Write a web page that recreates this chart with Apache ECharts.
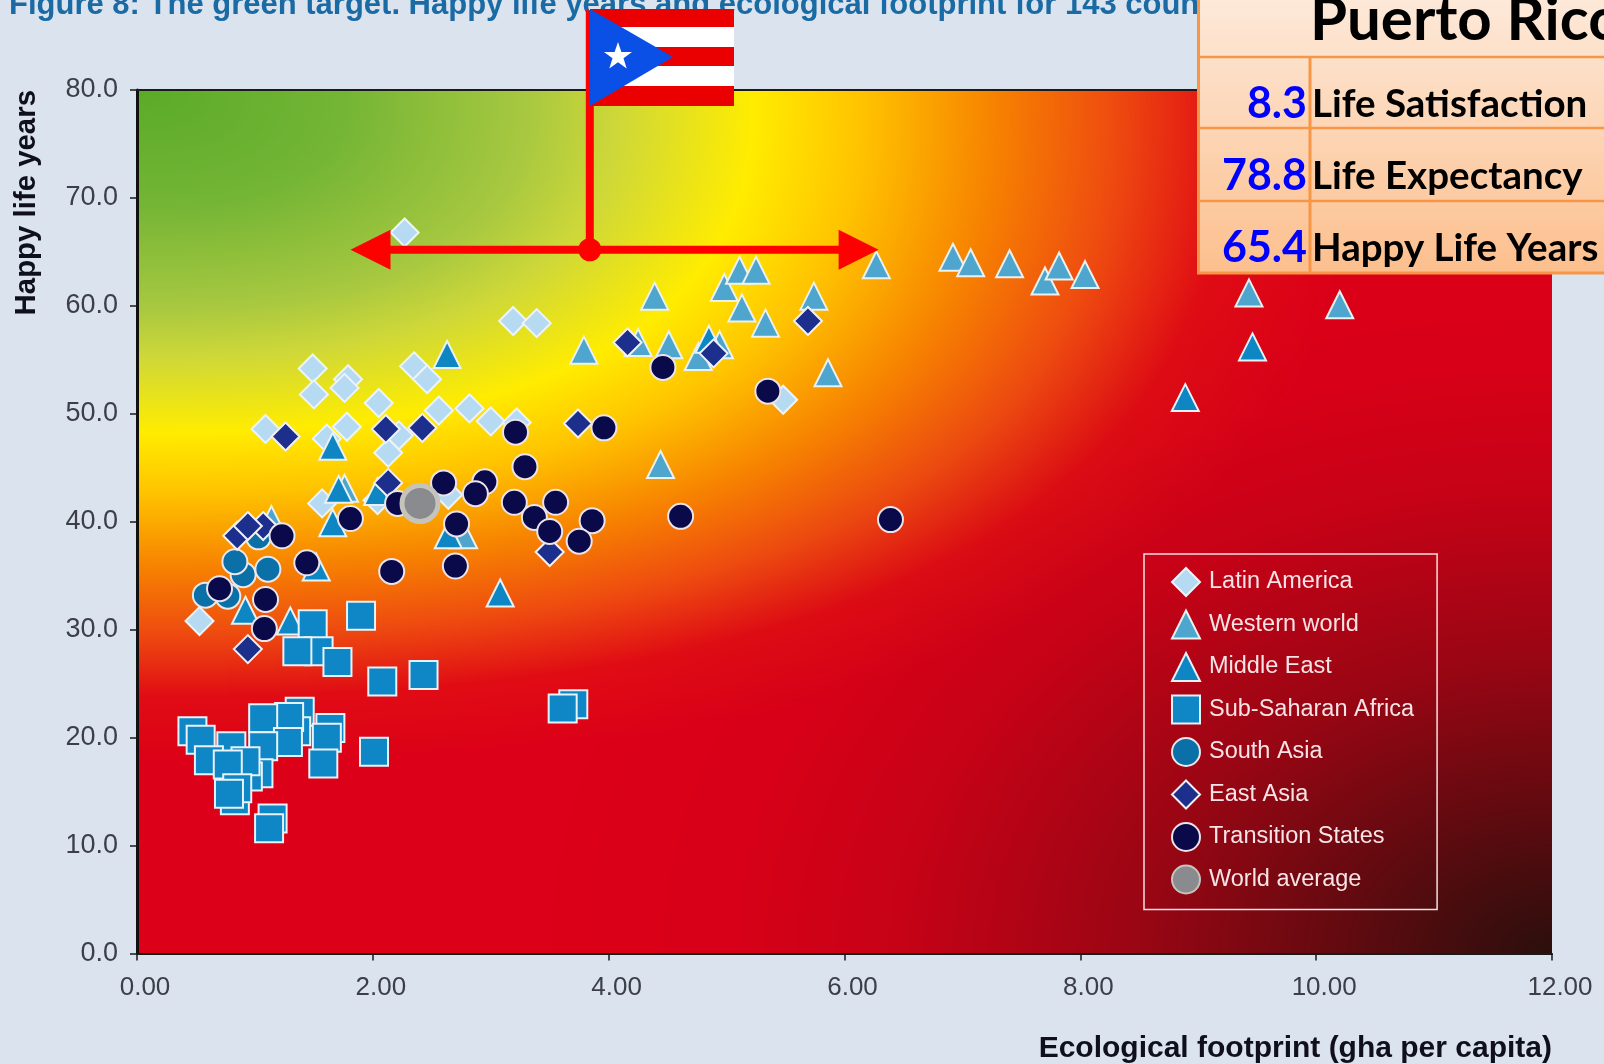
<!DOCTYPE html>
<html>
<head>
<meta charset="utf-8">
<style>html,body{margin:0;padding:0;background:#dbe3ee;overflow:hidden}#chart{width:1604px;height:1064px}</style>
<script src="https://cdn.jsdelivr.net/npm/echarts@6/dist/echarts.min.js"></script>
</head>
<body>
<div id="chart"></div>
<script>
// values: [footprint, happy life years]
var latinAmerica = [[2.27,66.8],[3.19,58.6],[3.39,58.4],[1.49,54.2],[1.50,51.8],[1.79,53.2],[1.76,52.4],[2.35,54.4],[2.46,53.2],[2.05,51.0],[2.56,50.3],[2.82,50.5],[3.00,49.3],[3.22,49.2],[1.09,48.6],[1.78,48.8],[1.61,47.7],[2.22,48.0],[2.13,46.4],[2.64,42.5],[1.57,41.7],[2.04,42.0],[0.53,30.8],[5.48,51.3]];
var westernWorld = [[4.39,60.9],[4.98,61.7],[5.11,63.3],[5.25,63.3],[5.13,59.8],[5.33,58.4],[5.74,60.9],[3.79,55.9],[4.25,56.6],[4.51,56.4],[4.76,55.3],[4.94,56.4],[5.86,53.8],[4.44,45.3],[6.27,63.8],[6.92,64.5],[7.07,64.0],[7.40,63.9],[7.70,62.3],[7.82,63.7],[8.04,62.9],[9.43,61.2],[10.20,60.1],[1.76,43.1],[2.77,38.8],[1.14,40.2]];
var middleEast = [[2.63,55.5],[1.66,47.0],[1.71,43.0],[2.04,42.8],[1.66,39.9],[2.64,38.8],[0.92,31.8],[1.30,30.8],[1.52,35.8],[3.08,33.4],[4.85,56.9],[9.46,56.2],[8.89,51.5]];
var subSaharan = [[1.90,31.3],[1.49,30.5],[1.54,28.0],[1.36,28.0],[1.70,27.0],[2.08,25.2],[2.43,25.8],[1.38,22.4],[1.35,20.6],[1.64,20.9],[1.29,21.9],[1.07,21.8],[1.61,20.0],[1.28,19.6],[1.07,19.2],[0.47,20.6],[0.54,19.8],[0.80,19.2],[1.03,16.7],[0.94,16.4],[0.92,17.8],[0.61,17.9],[0.77,17.5],[1.58,17.6],[2.01,18.7],[0.83,14.2],[0.85,15.3],[0.78,14.8],[1.15,12.5],[1.12,11.6],[3.70,23.1],[3.61,22.7]];
var southAsia = [[1.03,38.6],[0.90,35.1],[0.83,36.3],[1.11,35.6],[0.77,33.1],[0.58,33.2]];
var eastAsia = [[1.26,47.9],[2.11,48.6],[2.42,48.7],[2.13,43.6],[0.85,38.7],[1.07,39.6],[0.94,39.6],[0.94,28.2],[3.74,49.1],[4.16,56.6],[4.89,55.6],[5.69,58.6],[3.50,37.2]];
var transitionStates = [[4.46,54.3],[5.35,52.1],[3.21,48.3],[3.96,48.7],[3.29,45.1],[3.20,41.8],[3.55,41.8],[3.37,40.4],[3.50,39.1],[3.86,40.1],[3.75,38.2],[4.61,40.5],[6.39,40.2],[1.81,40.3],[2.21,41.7],[2.71,39.8],[2.60,43.6],[2.95,43.7],[2.87,42.6],[1.23,38.7],[1.44,36.2],[2.16,35.4],[2.70,35.9],[0.70,33.8],[1.09,32.8],[1.08,30.1]];
var worldAverage = [[2.40,41.7]];

var puertoRico = [3.84, 65.2];
var arrowEnds = [1.98, 6.12];
var poleTop = 87.4;

var tableTitle = 'Puerto Rico';
var tableValues = ['8.3', '78.8', '65.4'];
var tableLabels = ['Life Satisfaction', 'Life Expectancy', 'Happy Life Years'];

var grid = {left: 137, top: 90, right: 1552, bottom: 953.5};
var plotW = grid.right - grid.left;
var plotH = grid.bottom - grid.top;

// colour field behind the plot: distance from the top left corner -> colour
var fieldStops = [
  [0, 0x5a, 0xab, 0x28], [115, 0x74, 0xb5, 0x35], [217, 0xa8, 0xc8, 0x40], [268, 0xcf, 0xd8, 0x38],
  [342, 0xff, 0xec, 0x00], [401, 0xff, 0xc4, 0x00], [473, 0xf7, 0x85, 0x00], [544, 0xee, 0x4a, 0x10],
  [606, 0xe0, 0x0c, 0x14], [677, 0xdc, 0x00, 0x18], [2000, 0xdc, 0x00, 0x18]
];
// darkening toward the bottom right corner: distance -> share of dark colour
var darkStops = [[0, 1], [150, 0.78], [410, 0.38], [655, 0.12], [820, 0.03], [1020, 0], [4000, 0]];
var darkColor = [0x2a, 0x0f, 0x0c];

function lookup(stops, d, k) {
  for (var i = 1; i < stops.length; i++) {
    if (d <= stops[i][0]) {
      var t = (d - stops[i - 1][0]) / (stops[i][0] - stops[i - 1][0]);
      return stops[i - 1][k] + (stops[i][k] - stops[i - 1][k]) * t;
    }
  }
  return stops[stops.length - 1][k];
}

function buildField() {
  var w = Math.round(plotW), h = Math.round(plotH);
  var c = document.createElement('canvas');
  c.width = w; c.height = h;
  var ctx = c.getContext('2d');
  var img = ctx.createImageData(w, h);
  var p = 2.5;
  for (var y = 0; y < h; y++) {
    for (var x = 0; x < w; x++) {
      var d = Math.pow(Math.pow(x / 1.8, p) + Math.pow(y, p), 1 / p);
      var m = Math.sqrt(Math.pow(w - x, 2) + Math.pow((h - y) * 1.4, 2));
      var s = lookup(darkStops, m, 1);
      var o = (y * w + x) * 4;
      img.data[o] = lookup(fieldStops, d, 1) * (1 - s) + darkColor[0] * s;
      img.data[o + 1] = lookup(fieldStops, d, 2) * (1 - s) + darkColor[1] * s;
      img.data[o + 2] = lookup(fieldStops, d, 3) * (1 - s) + darkColor[2] * s;
      img.data[o + 3] = 255;
    }
  }
  ctx.putImageData(img, 0, 0);
  return c;
}

var chart = echarts.init(document.getElementById('chart'), null, {renderer: 'canvas'});

function group(name, data, symbol, size, fill, stroke, z) {
  return {
    name: name, type: 'scatter', data: data, symbol: symbol, symbolSize: size, z: z,
    itemStyle: {color: fill, borderColor: stroke, borderWidth: 2, opacity: 1},
    emphasis: {disabled: true}, animation: false
  };
}

// red crosshair, in chart values
var marker = [
  {type: 'line', data: [[arrowEnds[0], puertoRico[1]], [arrowEnds[1], puertoRico[1]]], symbol: 'none', z: 30, clip: false, silent: true, animation: false,
    lineStyle: {color: '#ff0000', width: 8}},
  {type: 'line', data: [[puertoRico[0], puertoRico[1]], [puertoRico[0], poleTop]], symbol: 'none', z: 30, clip: false, silent: true, animation: false,
    lineStyle: {color: '#ff0000', width: 8}},
  {type: 'scatter', data: [puertoRico], symbol: 'circle', symbolSize: 23, z: 31, clip: false, silent: true, animation: false, itemStyle: {color: '#ff0000', opacity: 1}},
  {type: 'scatter', data: [[arrowEnds[0], puertoRico[1]]], symbol: 'triangle', symbolSize: 40, symbolRotate: 90, z: 31, silent: true, animation: false, itemStyle: {color: '#ff0000', opacity: 1}},
  {type: 'scatter', data: [[arrowEnds[1], puertoRico[1]]], symbol: 'triangle', symbolSize: 40, symbolRotate: -90, z: 31, silent: true, animation: false, itemStyle: {color: '#ff0000', opacity: 1}}
];

// flag
var flag = [
  {type: 'rect', z: 50, shape: {x: 590, y: 9, width: 144, height: 97}, style: {fill: '#ea0000'}},
  {type: 'rect', z: 50, shape: {x: 590, y: 27, width: 144, height: 20}, style: {fill: '#ffffff'}},
  {type: 'rect', z: 50, shape: {x: 590, y: 66, width: 144, height: 20}, style: {fill: '#ffffff'}},
  {type: 'polygon', z: 51, shape: {points: [[590, 9], [673, 57], [590, 106]]}, style: {fill: '#0a50e6'}},
  {type: 'polygon', z: 52, shape: {points: [[618,42],[621.4,52],[632,52],[623.5,58.3],[626.7,68.5],[618,62.3],[609.3,68.5],[612.5,58.3],[604,52],[614.6,52]]}, style: {fill: '#ffffff'}}
];

// info table, top right
var tableFont = 'Lato, "Open Sans", sans-serif';
var table = [
  {type: 'rect', z: 60, shape: {x: 1198.5, y: -6, width: 420, height: 279}, style: {
    fill: new echarts.graphic.LinearGradient(0, 0, 0, 1, [{offset: 0, color: '#fdeadb'}, {offset: 1, color: '#fcbf8d'}]),
    stroke: '#f79646', lineWidth: 3}},
  {type: 'line', z: 61, shape: {x1: 1198, y1: 57, x2: 1604, y2: 57}, style: {stroke: '#f79646', lineWidth: 2.5}},
  {type: 'line', z: 61, shape: {x1: 1198, y1: 128, x2: 1604, y2: 128}, style: {stroke: '#f79646', lineWidth: 2.5}},
  {type: 'line', z: 61, shape: {x1: 1198, y1: 201, x2: 1604, y2: 201}, style: {stroke: '#f79646', lineWidth: 2.5}},
  {type: 'line', z: 61, shape: {x1: 1310, y1: 57, x2: 1310, y2: 273}, style: {stroke: '#f79646', lineWidth: 3}},
  {type: 'text', z: 62, style: {text: tableTitle, x: 1310, y: 21, fill: '#000', font: 'bold 60px ' + tableFont, verticalAlign: 'middle'}}
];
var rowY = [104.5, 176.5, 248.5];
tableValues.forEach(function (v, i) {
  table.push({type: 'text', z: 62, style: {text: v, x: 1307, y: rowY[i], fill: '#0000ff', align: 'right', font: 'bold 43px ' + tableFont, verticalAlign: 'middle'}});
  table.push({type: 'text', z: 62, style: {text: tableLabels[i], x: 1312, y: rowY[i], fill: '#000', font: 'bold 38.5px ' + tableFont, verticalAlign: 'middle'}});
});

var option = {
  backgroundColor: '#dbe3ee',
  animation: false,
  title: {
    text: 'Figure 8: The green target. Happy life years and ecological footprint for 143 countries',
    left: 9, top: -10, padding: 0,
    textStyle: {color: '#1a6aa3', fontFamily: '"Liberation Sans", Arial, sans-serif', fontWeight: 'bold', fontSize: 31}
  },
  grid: {left: grid.left, top: grid.top, width: plotW, height: plotH},
  xAxis: [{
    type: 'value', min: 0, max: 12, interval: 2, position: 'bottom',
    name: 'Ecological footprint (gha per capita)', nameLocation: 'end', nameGap: 0,
    nameTextStyle: {color: '#10101c', fontFamily: '"Liberation Sans", Arial, sans-serif', fontWeight: 'bold', fontSize: 30, align: 'right', verticalAlign: 'top', padding: [80, 0, 0, 0]},
    axisLine: {onZero: false, lineStyle: {color: '#1a1a1a', width: 2}},
    axisTick: {show: true, length: 7, lineStyle: {color: '#1a1a1a', width: 1.5}},
    axisLabel: {margin: 21, fontSize: 26, color: '#3c3f48', fontFamily: '"Liberation Sans", Arial, sans-serif', padding: [0, 0, 0, 16], formatter: function (v) { return v.toFixed(2); }},
    splitLine: {show: false}
  }, {
    type: 'value', min: 0, max: 12, position: 'top', show: true,
    axisLine: {onZero: false, lineStyle: {color: '#1a1a1a', width: 2}}, axisTick: {show: false}, axisLabel: {show: false}, splitLine: {show: false}
  }],
  yAxis: {
    type: 'value', min: 0, max: 80, interval: 10,
    name: 'Happy life years', nameLocation: 'end', nameRotate: 90, nameGap: 0,
    nameTextStyle: {color: '#10101c', fontFamily: '"Liberation Sans", Arial, sans-serif', fontWeight: 'bold', fontSize: 29.4, align: 'right', verticalAlign: 'bottom', padding: [0, 0, 96, 0]},
    axisLine: {onZero: false, lineStyle: {color: '#111', width: 3}},
    axisTick: {show: true, length: 7, lineStyle: {color: '#1a1a1a', width: 1.5}},
    axisLabel: {margin: 19, fontSize: 27, color: '#3c3f48', fontFamily: '"Liberation Sans", Arial, sans-serif', formatter: function (v) { return v.toFixed(1); }},
    splitLine: {show: false}
  },
  legend: {
    show: true, orient: 'vertical', left: 1144, top: 554,
    padding: [13, 23, 15, 27], itemWidth: 28, itemHeight: 28, itemGap: 14.5 - 2,
    borderColor: '#f3dfe0', borderWidth: 1.5,
    textStyle: {color: '#f8e4e6', fontSize: 23.5, fontFamily: '"Liberation Sans", Arial, sans-serif', padding: [0, 0, 0, 4]},
    selectedMode: false,
    data: ['Latin America', 'Western world', 'Middle East', 'Sub-Saharan Africa', 'South Asia', 'East Asia', 'Transition States', 'World average']
  },
  graphic: {elements: [
    {type: 'image', z: -1, silent: true, style: {image: buildField(), x: grid.left, y: grid.top, width: plotW, height: plotH}}
  ].concat(flag, table)},
  series: [
    group('Latin America', latinAmerica, 'diamond', 28, '#b5daf2', '#edf4f8', 3),
    group('Western world', westernWorld, 'triangle', [27, 27], '#4ea6ce', '#ecf0ee', 4),
    group('Middle East', middleEast, 'triangle', [27, 27], '#0f86c4', '#e9f1f5', 5),
    group('Sub-Saharan Africa', subSaharan, 'rect', 28, '#0f86c6', '#e8f2f7', 6),
    group('South Asia', southAsia, 'circle', 25, '#0b6fa8', '#ece8ea', 7),
    group('East Asia', eastAsia, 'diamond', 28, '#1c2f8c', '#f2f0f2', 8),
    group('Transition States', transitionStates, 'circle', 25, '#0a0a4a', '#ebe4ea', 9),
    (function () {
      var s = group('World average', worldAverage, 'circle', 36, '#8a8b8e', '#c6c3bd', 10);
      s.itemStyle.borderWidth = 5;
      return s;
    })()
  ].concat(marker)
};
chart.setOption(option);
</script>
</body>
</html>
